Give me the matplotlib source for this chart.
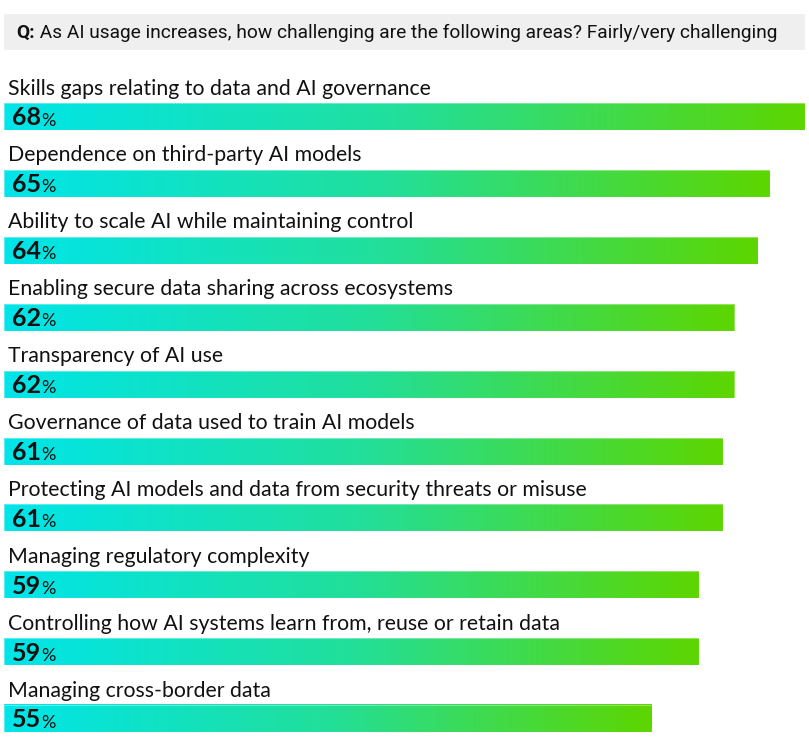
import matplotlib
matplotlib.use("Agg")
import matplotlib.pyplot as plt
import numpy as np
from matplotlib.colors import LinearSegmentedColormap
from matplotlib.patches import Rectangle

categories = [
    "Skills gaps relating to data and AI governance",
    "Dependence on third-party AI models",
    "Ability to scale AI while maintaining control",
    "Enabling secure data sharing across ecosystems",
    "Transparency of AI use",
    "Governance of data used to train AI models",
    "Protecting AI models and data from security threats or misuse",
    "Managing regulatory complexity",
    "Controlling how AI systems learn from, reuse or retain data",
    "Managing cross-border data",
]
values = [68, 65, 64, 62, 62, 61, 61, 59, 59, 55]
title_bold = "Q:"
title_rest = " As AI usage increases, how challenging are the following areas? Fairly/very challenging"

W, H = 809, 748
fig = plt.figure(figsize=(W / 100, H / 100), dpi=100)

# header
hax = fig.add_axes([0, 0, 1, 1])
hax.set_xlim(0, W)
hax.set_ylim(H, 0)
hax.axis("off")
hax.add_patch(Rectangle((4, 14), 801, 36, facecolor="#efefef", edgecolor="none"))
t1 = hax.text(16, 33, title_bold, fontsize=13.8, fontweight="bold", family="Roboto",
              va="center", ha="left", color="#111111")
fig.canvas.draw()
bb = t1.get_window_extent()
hax.text(16 + bb.width, 33, title_rest, fontsize=13.8, family="Roboto",
         va="center", ha="left", color="#111111")

# bars
top_px, bot_px = 60, 748
row0, step = 116.5, 66.9
ax = fig.add_axes([4 / W, 0, 801 / W, (bot_px - top_px) / H])
ax.set_xlim(0, 68)
ax.set_ylim((bot_px - row0) / step, (top_px - row0) / step)
ax.axis("off")

cmap = LinearSegmentedColormap.from_list("g", ["#00e5ea", "#22df9a", "#5dd600"])
grad = np.linspace(0, 1, 256).reshape(1, -1)
bh = 27 / step
for i, (c, v) in enumerate(zip(categories, values)):
    ax.imshow(grad, cmap=cmap, aspect="auto", extent=(0, v, i + bh / 2, i - bh / 2),
              interpolation="bilinear", zorder=1)
    ax.add_patch(Rectangle((0, i - bh / 2), v, bh, facecolor="none",
                           edgecolor=(1, 1, 1, 0.35), lw=0.8, zorder=2))
    ax.text(0.3, i - 28 / step, c, fontsize=15.3, family="Lato", va="center",
            ha="left", color="#111111", zorder=3)
    tn = ax.text(0.65, i + 0.02, f"{v}", fontsize=18, fontweight="bold", family="Lato",
                 va="center", ha="left", color="#111111", zorder=3)
    fig.canvas.draw()
    wb = tn.get_window_extent()
    xdata = ax.transData.inverted().transform((wb.x1, wb.y0))[0]
    ax.text(xdata + 0.05, i + 0.06, "%", fontsize=13, family="Lato", va="center",
            ha="left", color="#111111", zorder=3)

fig.savefig("out.png", dpi=100)
